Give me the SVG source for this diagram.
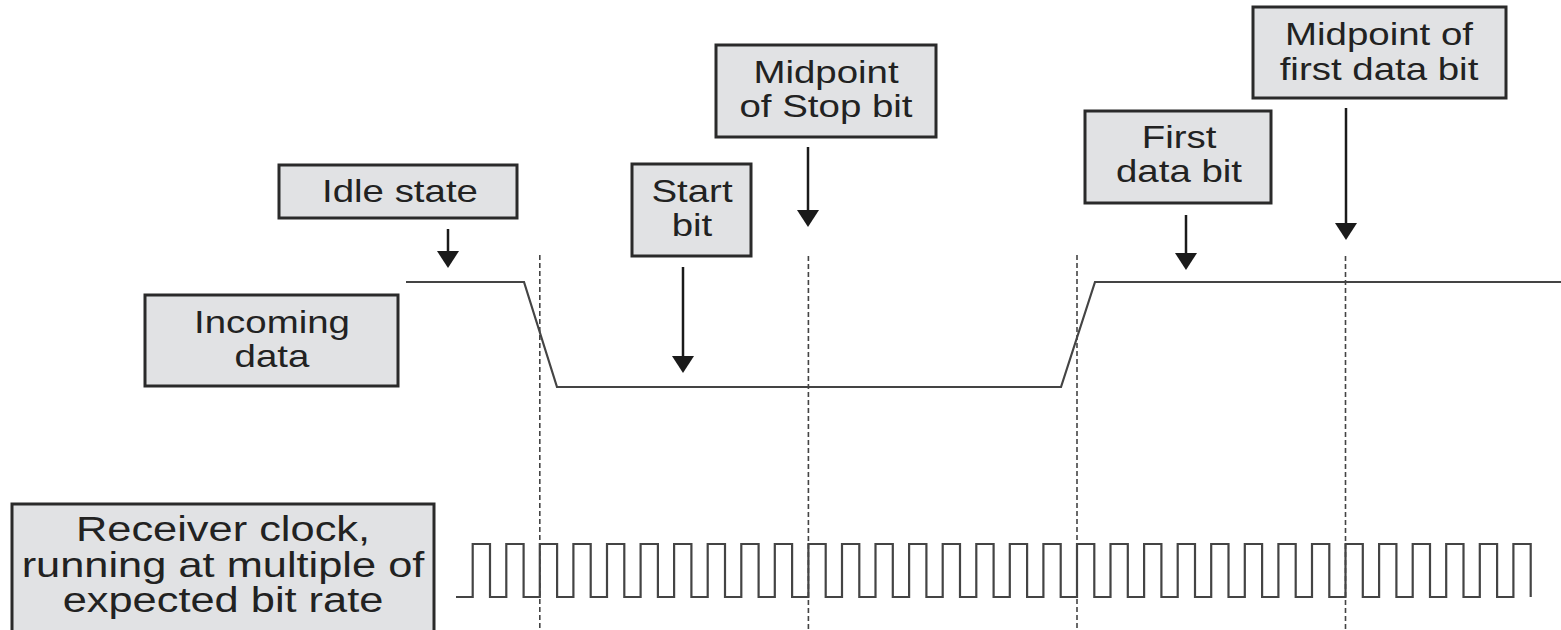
<svg xmlns="http://www.w3.org/2000/svg" width="1561" height="630" viewBox="0 0 1561 630">
<style>
.box{fill:#e1e2e4;stroke:#2a2a2a;stroke-width:3}
.lbl{font-family:"Liberation Sans",Arial,sans-serif;font-size:31px;fill:#222;text-anchor:middle}
.big{font-size:35px}
.arrow{stroke:#1a1a1a;stroke-width:2.5;fill:none}
.dash{stroke:#444;stroke-width:1.6;stroke-dasharray:5 3;fill:none}
.wave{stroke:#444;stroke-width:2.2;fill:none;stroke-linejoin:miter}
</style>
<defs>
<marker id="ah" viewBox="0 0 17 22" refX="7" refY="11" markerWidth="17" markerHeight="22" markerUnits="userSpaceOnUse" orient="auto">
<path d="M0,0 L17,11 L0,22 Z" fill="#1a1a1a"/>
</marker>
</defs>
<rect width="1561" height="630" fill="#fff"/>

<g id="signals">
<path class="dash" d="M539.8,255 V630 M808.4,256 V630 M1077,255 V630 M1345.5,256 V630"/>
<path class="wave" d="M406,282 H524 L557,387 H1061 L1095,282 H1561"/>
<path class="wave" stroke-width="2" d="M456,597 H472.7 V544 H490 V597 H506.3 V544 H523.6 V597 H539.8 V544 H557.1 V597 H573.4 V544 H590.7 V597 H607 V544 H624.3 V597 H640.6 V544 H657.9 V597 H674.1 V544 H691.4 V597 H707.7 V544 H725 V597 H741.3 V544 H758.6 V597 H774.8 V544 H792.1 V597 H808.4 V544 H825.7 V597 H842 V544 H859.3 V597 H875.5 V544 H892.8 V597 H909.1 V544 H926.4 V597 H942.7 V544 H960 V597 H976.3 V544 H993.6 V597 H1009.8 V544 H1027.1 V597 H1043.4 V544 H1060.7 V597 H1077 V544 H1094.3 V597 H1110.5 V544 H1127.8 V597 H1144.1 V544 H1161.4 V597 H1177.7 V544 H1195 V597 H1211.2 V544 H1228.5 V597 H1244.8 V544 H1262.1 V597 H1278.4 V544 H1295.7 V597 H1312 V544 H1329.3 V597 H1345.5 V544 H1362.8 V597 H1379.1 V544 H1396.4 V597 H1412.7 V544 H1430 V597 H1446.2 V544 H1463.5 V597 H1479.8 V544 H1497.1 V597 H1513.4 V544 H1530.7 V597"/>
</g>

<g id="connectors">
<line class="arrow" x1="448" y1="229" x2="448" y2="258" marker-end="url(#ah)"/>
<line class="arrow" x1="683" y1="267" x2="683" y2="363" marker-end="url(#ah)"/>
<line class="arrow" x1="808" y1="147" x2="808" y2="217" marker-end="url(#ah)"/>
<line class="arrow" x1="1186" y1="215" x2="1186" y2="260" marker-end="url(#ah)"/>
<line class="arrow" x1="1346" y1="108" x2="1346" y2="230" marker-end="url(#ah)"/>
</g>

<g id="idle-state">
<rect class="box" x="279" y="165" width="238" height="53"/>
<text class="lbl" transform="matrix(1.24 0 0 1 400 0)" x="0" y="202">Idle state</text>
</g>

<g id="incoming-data">
<rect class="box" x="145" y="295" width="253" height="91"/>
<text class="lbl" transform="matrix(1.24 0 0 1 272 0)" x="0" y="333">Incoming</text>
<text class="lbl" transform="matrix(1.24 0 0 1 272 0)" x="0" y="367">data</text>
</g>

<g id="start-bit">
<rect class="box" x="632" y="164" width="119" height="92"/>
<text class="lbl" transform="matrix(1.24 0 0 1 692 0)" x="0" y="202">Start</text>
<text class="lbl" transform="matrix(1.24 0 0 1 692 0)" x="0" y="236">bit</text>
</g>

<g id="midpoint-stop-bit">
<rect class="box" x="716" y="45" width="220" height="92"/>
<text class="lbl" transform="matrix(1.24 0 0 1 826 0)" x="0" y="83">Midpoint</text>
<text class="lbl" transform="matrix(1.24 0 0 1 826 0)" x="0" y="117">of Stop bit</text>
</g>

<g id="first-data-bit">
<rect class="box" x="1085" y="111" width="186" height="92"/>
<text class="lbl" transform="matrix(1.24 0 0 1 1179 0)" x="0" y="148">First</text>
<text class="lbl" transform="matrix(1.24 0 0 1 1179 0)" x="0" y="182">data bit</text>
</g>

<g id="midpoint-first-data-bit">
<rect class="box" x="1253" y="7" width="253" height="91"/>
<text class="lbl" transform="matrix(1.24 0 0 1 1379 0)" x="0" y="45">Midpoint of</text>
<text class="lbl" transform="matrix(1.24 0 0 1 1379 0)" x="0" y="80">first data bit</text>
</g>

<g id="receiver-clock">
<rect class="box" x="12" y="504" width="422" height="140"/>
<text class="lbl big" transform="matrix(1.24 0 0 1 223 0)" x="0" y="541">Receiver clock,</text>
<text class="lbl big" transform="matrix(1.24 0 0 1 223 0)" x="0" y="577">running at multiple of</text>
<text class="lbl big" transform="matrix(1.24 0 0 1 223 0)" x="0" y="612">expected bit rate</text>
</g>
</svg>
